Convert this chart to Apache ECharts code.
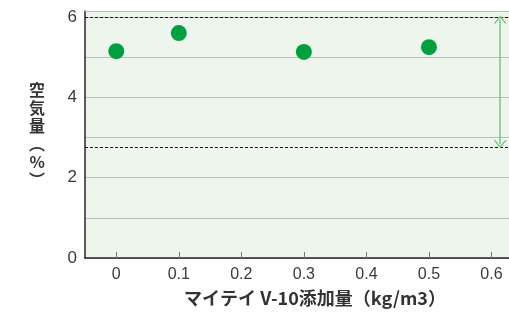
<!DOCTYPE html>
<html>
<head>
<meta charset="utf-8">
<script src="https://cdn.jsdelivr.net/npm/echarts@6/dist/echarts.min.js"></script>
<style>
  html, body { margin: 0; padding: 0; background: #fff; }
  #chart { width: 509px; height: 312px; }
</style>
</head>
<body>
<div id="chart"></div>
<script>
// 添加量 (kg/m3) と 空気量 (%)
const dosage = [0, 0.1, 0.3, 0.5]
const airContent = [5.15, 5.6, 5.13, 5.25]
const xTicks = [0, 0.1, 0.2, 0.3, 0.4, 0.5, 0.6]
const yLabels = [0, 2, 4, 6]
const upperLimit = 6
const lowerLimit = 2.75
const arrowX = 0.614

const font = '"Noto Sans CJK JP", sans-serif'
const numFont = '"Liberation Sans", "Noto Sans", sans-serif'
// 開いた矢じり（細いV字）
const chevron = 'path://M0,10 L5,0 L10,10 L8.6,10 L5,2.8 L1.4,10 Z'

const myChart = echarts.init(document.getElementById('chart'))
let option = {
  animation: false,
  grid: {
    left: 85,
    right: 0,
    top: 11,
    bottom: 49,
    show: true,
    backgroundColor: '#eef5ec',
    borderWidth: 0
  },
  xAxis: {
    type: 'value',
    min: -0.05,
    max: 0.628,
    name: 'マイテイ V-10添加量（kg/m3）',
    nameLocation: 'middle',
    nameGap: 31,
    nameTextStyle: {
      fontFamily: font,
      fontSize: 18,
      fontWeight: 'bold',
      color: '#333',
      padding: [0, 0, 0, 36]
    },
    axisLine: { onZero: false, lineStyle: { color: '#2a2623', width: 1.5 } },
    axisTick: {
      show: true,
      inside: true,
      length: 6,
      customValues: xTicks,
      lineStyle: { color: '#777' }
    },
    axisLabel: {
      customValues: xTicks,
      margin: 9,
      fontFamily: numFont,
      fontSize: 16,
      color: '#3a3a3a'
    },
    splitLine: { show: false }
  },
  yAxis: {
    type: 'value',
    min: 0,
    max: 6.15,
    interval: 1,
    name: '空\n気\n量\n︵\n%\n︶',
    nameLocation: 'middle',
    nameRotate: 0,
    nameGap: 40,
    nameTextStyle: {
      fontFamily: font,
      fontSize: 16,
      fontWeight: 'bold',
      color: '#333',
      lineHeight: 18
    },
    axisLine: { show: true, onZero: false, lineStyle: { color: '#2a2623', width: 1.5 } },
    axisTick: { show: false },
    axisLabel: {
      customValues: yLabels,
      margin: 8,
      fontFamily: numFont,
      fontSize: 17,
      color: '#3a3a3a'
    },
    splitLine: { show: true, lineStyle: { color: '#b9bfb8', width: 1 } }
  },
  series: [
    {
      type: 'scatter',
      data: dosage.map((d, i) => [d, airContent[i]]),
      symbolSize: 16,
      itemStyle: { color: '#00a040', opacity: 1 },
      z: 5,
      markLine: {
        silent: true,
        symbol: 'none',
        label: { show: false },
        data: [
          { yAxis: 6.15, lineStyle: { color: '#b9bfb8', type: 'solid', width: 1 } },
          { yAxis: upperLimit, lineStyle: { color: '#111', type: [3, 2], width: 1 } },
          { yAxis: lowerLimit, lineStyle: { color: '#111', type: [3, 2], width: 1 } }
        ]
      }
    },
    {
      type: 'scatter',
      data: [],
      markLine: {
        silent: true,
        symbol: [chevron, chevron],
        symbolSize: [13, 8],
        label: { show: false },
        lineStyle: { color: '#7cc47f', type: 'solid', width: 1.5 },
        data: [
          [
            { coord: [arrowX, upperLimit - 0.06] },
            { coord: [arrowX, lowerLimit + 0.08] }
          ]
        ]
      }
    }
  ]
}
myChart.setOption(option)
</script>
</body>
</html>
